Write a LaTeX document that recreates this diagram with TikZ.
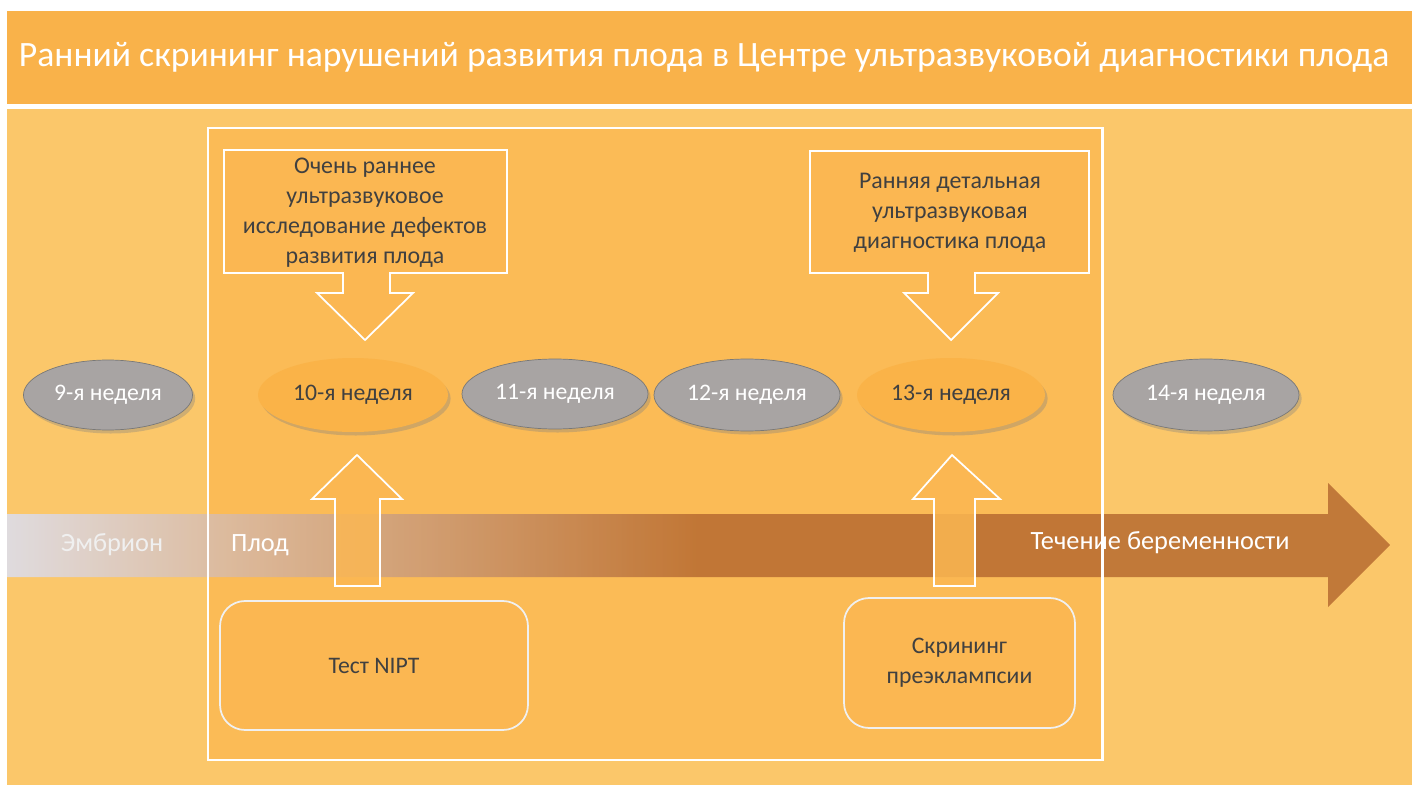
\documentclass[tikz,border=0pt]{standalone}
\usepackage{fontspec}
\setmainfont{Carlito}
\usepackage{tikz}
\usetikzlibrary{shapes.geometric, shadows}
\definecolor{titleorange}{RGB}{249, 178, 74}
\definecolor{bandorange}{RGB}{251, 199, 106}
\definecolor{frameorange}{RGB}{251, 187, 86}
\definecolor{boxorange}{RGB}{251, 183, 82}
\definecolor{weekgray}{RGB}{168, 164, 163}
\definecolor{weekedge}{RGB}{120, 120, 120}
\definecolor{weekorange}{RGB}{250, 179, 72}
\definecolor{textgray}{RGB}{64, 64, 64}
\definecolor{embryoblue}{RGB}{218, 224, 248}
\definecolor{embryopink}{RGB}{214, 186, 172}
\definecolor{termbrown}{RGB}{181, 104, 47}
\pgfdeclarehorizontalshading{termshade}{100bp}{color(0bp)=(embryoblue); color(25bp)=(embryoblue); color(33bp)=(embryopink); color(50bp)=(termbrown); color(100bp)=(termbrown)}

\begin{document}
\begin{tikzpicture}[x=0.02cm, y=-0.02cm,
		week/.style={ellipse, minimum width=3.6cm, minimum height=1.42cm, font=\fontsize{13.5}{16}\selectfont, drop shadow={opacity=0.35, shadow xshift=1.5pt, shadow yshift=-2pt}},
		grayweek/.style={week, draw=weekedge, fill=weekgray, text=white},
		orangeweek/.style={week, fill=weekorange, text=textgray},
		notebox/.style={rectangle, rounded corners=0.5cm, draw=white!88!gray, line width=1pt, fill=boxorange, text=textgray, align=center, font=\fontsize{13.5}{17}\selectfont}]
	\fill[white] (0,0) rectangle (1423,797);
	\fill[titleorange] (7,11) rectangle (1412,104);
	\fill[bandorange] (7,109) rectangle (1412,785);
	\fill[frameorange] (208,128) rectangle (1102,760);
	
	\draw[white, line width=1pt, fill=boxorange] (224,150) -- (507,150) -- (507,273) -- (390,273) -- (390,293) -- (413,293) -- (365,340) -- (317,293) -- (343,293) -- (343,273) -- (224,273) -- cycle;
	\draw[white, line width=1pt, fill=boxorange] (810,151) -- (1089,151) -- (1089,273) -- (975,273) -- (975,293) -- (998,293) -- (951,340) -- (904,293) -- (928,293) -- (928,273) -- (810,273) -- cycle;
	\node[text=textgray, align=center, font=\fontsize{13.6}{17}\selectfont] (early) at (365,213) {Очень раннее\\ультразвуковое\\исследование дефектов\\развития плода};
	\node[text=textgray, align=center, font=\fontsize{13.6}{17}\selectfont] (detail) at (950,213) {Ранняя детальная\\ультразвуковая\\диагностика плода};
	
	\node[grayweek, minimum width=3.36cm, minimum height=1.4cm] (w9) at (108,395) {9-я неделя};
	\node[orangeweek, minimum width=3.8cm, minimum height=1.48cm] (w10) at (353,395) {10-я неделя};
	\node[grayweek, minimum width=3.68cm, minimum height=1.4cm] (w11) at (555,394) {11-я неделя};
	\node[grayweek, minimum width=3.68cm, minimum height=1.44cm] (w12) at (747,395) {12-я неделя};
	\node[orangeweek, minimum width=3.76cm, minimum height=1.48cm] (w13) at (951,395) {13-я неделя};
	\node[grayweek, minimum width=3.6cm, minimum height=1.44cm] (w14) at (1206,395) {14-я неделя};
	
	\shade[shading=termshade, fill opacity=0.82] (7,514) -- (1328,514) -- (1328,483) -- (1390,545) -- (1328,607) -- (1328,577) -- (7,577) -- cycle;
	\draw[white, line width=1.7pt] (208,128) rectangle (1102,760);
	\node[text=white!88!gray, font=\fontsize{15}{18}\selectfont] (embryo) at (112,545) {Эмбрион};
	\node[text=white, font=\fontsize{15}{18}\selectfont] (fetus) at (260,545) {Плод};
	\node[text=white, font=\fontsize{15}{18}\selectfont] (course) at (1160,543) {Течение беременности};
	
	\draw[white, line width=1pt, fill=boxorange, fill opacity=0.85] (335,586) -- (335,499) -- (312,499) -- (357,455) -- (402,499) -- (380,499) -- (380,586) -- cycle;
	\draw[white, line width=1pt, fill=boxorange, fill opacity=0.85] (934,586) -- (934,499) -- (913,499) -- (952,455) -- (1000,499) -- (975,499) -- (975,586) -- cycle;
	
	\node[notebox, minimum width=6.16cm, minimum height=2.58cm] (nipt) at (374,665.5) {Тест NIPT};
	\node[notebox, minimum width=4.62cm, minimum height=2.6cm] (preecl) at (959.5,663) {Скрининг\\преэклампсии};
	
	\node[text=white, font=\fontsize{20.3}{24}\selectfont] (title) at (704,57) {Ранний скрининг нарушений развития плода в Центре ультразвуковой диагностики плода};
\end{tikzpicture}
\end{document}
